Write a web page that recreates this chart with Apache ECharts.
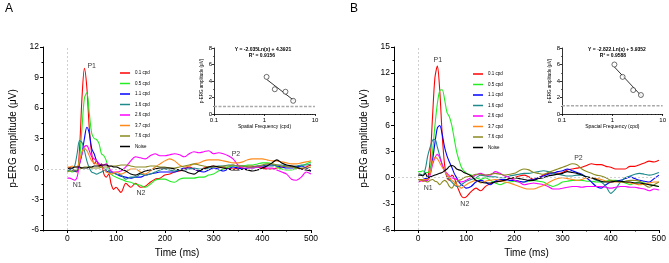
<!DOCTYPE html>
<html>
<head>
<meta charset="utf-8">
<script src="https://cdn.jsdelivr.net/npm/echarts@6.0.0/dist/echarts.min.js"></script>
<style>
html, body { margin: 0; padding: 0; background: #fff; }
#chart { width: 669px; height: 263px; }
</style>
</head>
<body>
<div id="chart"></div>
<script>
// time base (ms): 5 ms steps to 100, then 10 ms steps
const T = [0,5,10,15,20,25,30,35,40,45,50,55,60,65,70,75,80,85,90,95,100,
  110,120,130,140,150,160,170,180,190,200,
  210,220,230,240,250,260,270,280,290,300,
  310,320,330,340,350,360,370,380,390,400,
  410,420,430,440,450,460,470,480,490,500];

const NAMES = ['0.1 cpd', '0.5 cpd', '1.1 cpd', '1.6 cpd', '2.6 cpd', '3.7 cpd', '7.6 cpd', 'Noise'];
const COLORS = ['#ff0000', '#22ee22', '#0000ff', '#1f8a8a', '#ff00ff', '#ff8a1a', '#8a8a1f', '#000000'];

// panel A waveforms (uV)
const redA = [0.1,0.1,0,-0.2,-0.3,2,7,9.9,8,4,1.5,0.5,0.8,0.3,0.5,-0.5,-0.8,-0.5,-1.5,-2,-1.8,
  -2.3,-1.4,-1.8,-1.4,-1.8,-1.7,-1.3,-1.0,-0.9,-0.6,
  -0.5,-0.3,-0.2,0,0.2,0,-0.2,0.1,0.2,0.3,
  0.2,0.2,0.1,0,0.1,0.2,0.3,0.3,0.2,0.1,
  0,0,0.1,0.2,0.3,0.3,0.1,0,0.2,0.4];
const greenA = [-0.2,-0.2,-0.3,-0.2,0,1,4,7,7.5,5.5,3.5,3,2.9,2.5,1.5,1.3,0.8,-0.2,-0.5,-0.7,-0.8,
  -1.0,-1.2,-1.3,-1.5,-1.6,-1.8,-1.5,-1.1,-1.0,-1.0,
  -1.2,-1.3,-1.0,-0.9,-0.9,-0.9,-0.8,-0.8,-0.6,-0.5,
  -0.2,0,0.2,0.3,0.3,0.3,0.4,0.4,0.5,0.6,
  0.6,0.5,0.2,0,-0.1,-0.1,0.1,0.3,0.5,0.7];
const blueA = [0,0,-0.1,-0.2,-0.2,0.5,1.5,3,4.1,3.5,2,1.5,0.8,0.5,0.3,0,-0.2,-0.3,-0.3,-0.4,-0.5,
  -0.7,-0.8,-0.9,-0.8,-0.8,-0.6,-0.5,-0.4,-0.3,-0.3,
  -0.3,-0.3,-0.1,0.1,0.1,0,-0.2,-0.3,-0.1,0.1,
  0,-0.2,0,0.2,0.1,0,0.1,0.2,0.3,0.3,
  0.4,0.4,0.3,0.2,0.1,0.1,0.2,0.3,0.1,-0.2];
const tealA = [-0.2,-0.1,0,0.3,1.5,2.8,2.6,1.8,0.8,0.1,-0.3,-0.4,-0.5,-0.4,-0.3,-0.1,0,-0.1,-0.2,-0.4,-0.5,
  -0.6,-1.0,-0.8,-0.8,-0.5,-0.6,-0.5,-0.3,-0.1,0,
  -0.1,-0.2,-0.1,-0.1,0,0.1,0,0,0.1,0.2,
  0.3,0.3,0.4,0.4,0.3,0.3,0.2,0.1,0.2,0.3,
  0.3,0.3,0.4,0.4,0.3,0.3,0.3,0.4,0.4,0.5];
const magentaA = [-0.9,-0.9,-1.0,-1.1,-0.8,0.5,1.5,2.2,2.3,1.8,1.2,1.0,0.8,0.5,0.3,0.4,0.5,0.2,-0.2,-0.3,-0.3,
  -0.2,0.2,0.8,1.2,1.1,1.0,1.3,1.5,1.3,1.3,
  1.4,1.5,1.4,1.2,1.5,1.7,1.6,1.7,1.8,1.5,
  1.6,1.5,1.3,1.0,0.4,0.1,0.1,0.1,0.2,0.2,
  0.1,0.1,-0.1,-0.3,-0.5,-1.0,-1.1,-0.8,-0.3,-0.5];
const orangeA = [0.2,0.2,0.3,0.2,0.2,0.8,1.7,2.0,1.8,1.3,0.8,0.6,0.5,0.3,0.2,0,-0.3,-0.4,-0.5,-0.4,-0.3,
  -0.5,-0.3,0,0,-0.3,-0.5,-0.2,0.2,0.5,0.8,
  1.0,0.8,0.4,0.2,0.3,0.5,0.6,0.8,0.9,0.9,
  0.9,0.8,0.7,0.6,0.6,0.7,0.9,1.0,1.0,1.0,
  0.9,0.8,0.8,0.7,0.6,0.5,0.5,0.6,0.7,0.8];
const oliveA = [-0.3,-0.2,-0.2,-0.1,-0.1,0,0.1,0.2,0.2,0.2,0.1,0.1,0.1,0.1,0.2,0.2,0.2,0.2,0.3,0.3,0.3,
  0.4,0.4,0.3,0.2,0.2,0.2,0.3,0.3,0.2,0.2,
  0.1,0.1,0.2,0.3,0.4,0.5,0.4,0.3,0.2,0.2,
  0.2,0.3,0.3,0.4,0.3,0.3,0.2,0.2,0.3,0.4,
  0.5,0.5,0.4,0.3,0.2,0.2,0.1,0.1,0.1,0.2];
const noiseA = [0,0.1,0.1,0.2,0.2,0.2,0.1,0.1,0.1,0.2,0.2,0.3,0.3,0.3,0.4,0.4,0.4,0.3,0.3,0.2,0.2,
  0,-0.2,-0.5,-0.6,-0.4,-0.2,-0.1,0,0.1,0.1,
  0.1,0,-0.1,-0.2,-0.4,-0.5,-0.2,0,0.2,0.3,
  0.2,0.1,0,-0.1,-0.1,0,-0.1,-0.2,-0.1,0.1,
  0.3,0.6,0.9,0.6,0.4,0.3,0.2,0,-0.1,-0.2];

// panel B waveforms (uV)
const redB = [-0.3,-0.3,-0.4,-0.3,0,2,7,11.5,12.8,10,5,1.5,0,-0.3,0.3,0,-0.8,-1.5,-2.1,-2.3,-2.2,
  -1.6,-1.2,-1.5,-1.0,-0.7,-0.5,-0.4,-0.3,-0.1,0,
  0.2,0.3,0.1,-0.2,0,0.3,0.5,0.6,0.5,0.6,
  0.9,1.0,1.1,1.2,1.4,1.6,1.5,1.5,1.3,1.2,
  1.0,1.0,1.0,1.3,1.3,1.5,1.7,1.9,1.8,2.0];
const greenB = [0.7,0.7,0.8,0.6,0.6,1,3,6,8.5,10,10.1,9,7.5,7,6,4.5,3,2,1.2,0.8,0.5,
  0.3,0,-0.2,0,-0.3,-0.6,-0.8,-0.6,-0.5,-0.4,
  -0.5,-0.5,-0.4,-0.3,-0.4,-0.5,-0.8,-1.0,-0.8,-0.5,
  -0.4,-0.3,-0.3,-0.3,-0.4,-0.4,-0.5,-0.5,-0.4,-0.3,
  -0.3,-0.4,-0.6,-0.8,-0.6,-0.5,-0.6,-0.8,-0.9,-1.0];
const blueB = [-0.3,-0.3,-0.2,-0.1,0,0.5,2,4,5.7,6,5,3.5,2.5,1.8,1.2,0.5,0,-0.5,-0.8,-1,-1.2,
  -1.0,-0.5,-0.3,-0.5,-0.8,-0.4,-0.2,-0.2,-0.3,-0.3,
  -0.4,-0.5,-0.3,-0.2,0,0.2,0.4,0.5,0.7,0.8,
  1.0,0.8,0.6,0.4,0,-0.5,-1.0,-1.2,-0.8,-0.5,
  -0.4,-0.3,-0.1,0.1,-0.1,-0.3,-0.4,-0.5,-0.1,0.3];
const tealB = [0.5,0.4,0.3,1,2.5,3.5,4.3,4.4,3.5,2.5,1.5,0.8,0.2,-0.2,-0.5,-0.8,-1.0,-1.0,-0.8,-0.6,-0.4,
  -0.2,0,0.3,0.2,0.1,0.1,0,0,0.2,0.3,
  0.4,0.5,0.5,0.6,0.7,0.8,0.7,0.5,0.4,0.3,
  0.2,0.2,0.3,0.3,0.1,0,-0.3,-0.5,-1.0,-1.8,
  -1.3,-0.5,0,0.2,0.4,0.5,0.4,0.3,0.4,0.6];
const magentaB = [-0.5,-0.4,-0.3,-0.3,-0.3,0.3,1.5,2.3,2.7,2.3,1.5,0.8,0.5,0.2,0,-0.1,-0.2,-0.4,-0.5,-0.4,-0.3,
  0,0.3,0.5,0.3,0.3,0.7,0.5,0.2,0,-0.3,
  -0.5,-0.8,-0.7,-0.6,-0.7,-0.8,-1.0,-1.3,-1.3,-1.2,
  -1.1,-1.0,-1.0,-1.1,-1.0,-1.0,-1.0,-1.0,-1.1,-1.2,
  -1.1,-1.0,-1.0,-1.1,-1.1,-1.2,-1.3,-1.5,-1.3,-1.4];
const orangeB = [-0.3,-0.3,-0.2,-0.2,-0.2,0.5,1.8,2.3,2.2,1.7,1.2,0.8,0.3,0,-0.3,-0.5,-0.8,-1.0,-1.2,-1.0,-0.8,
  -0.5,-0.3,-0.6,-0.4,-0.3,-0.2,-0.3,-0.5,-0.6,-0.8,
  -1.0,-1.2,-1.3,-1.3,-1.1,-0.9,-0.6,-0.3,-0.1,0,
  -0.1,-0.2,-0.3,-0.2,0,0,-0.1,-0.2,-0.4,-0.5,
  -0.5,-0.5,-0.5,-0.6,-0.7,-0.8,-0.7,-0.6,-0.5,-0.5];
const oliveB = [-0.2,-0.2,-0.3,-0.4,-0.5,-0.3,-0.2,-0.4,-0.5,-0.8,-0.5,-0.3,-0.5,-1.0,-1.2,-0.8,-0.5,-0.3,-0.2,0,0.1,
  0.2,0.4,0.4,0.3,0.4,0.5,0.4,0.3,0.4,0.5,
  0.8,1.0,0.9,0.6,0.5,0.4,0.6,0.8,1.0,1.2,
  1.4,1.6,1.5,1.0,0.7,0.5,0.3,0.2,0,-0.3,
  -0.4,-0.5,-0.4,-0.3,-0.3,-0.4,-0.8,-1.1,-0.8,-0.5];
const noiseB = [0.3,0.3,0.2,0.5,0,0.1,0.2,0.3,0.4,0.5,0.6,0.8,1.0,1.3,1.4,1.3,1.0,0.9,0.8,0.6,0.5,
  0.2,-0.3,-0.5,-0.6,-0.6,-0.5,-0.4,-0.3,-0.1,0,
  -0.1,-0.2,-0.3,-0.3,-0.1,0,0.2,0.3,0.4,0.5,
  0.7,0.6,0.5,0.3,0.1,0,-0.2,-0.4,-0.5,-0.5,
  -0.4,-0.4,-0.5,-0.5,-0.6,-0.6,-0.7,-0.8,-0.9,-1.0];

// component labels: [text, time, amplitude]
const peaksA = [['P1', 50, 10.1], ['N1', 20, -1.6], ['N2', 151, -2.4], ['P2', 346, 1.5]];
const peaksB = [['P1', 41, 13.5], ['N1', 21, -1.2], ['N2', 97, -3.0], ['P2', 333, 2.3]];

// insets: amplitude vs spatial frequency
const sfA = [1.1, 1.6, 2.6, 3.7];
const ampA = [4.5, 3.0, 2.7, 1.6];
const fitA = [[1.1, 4.2], [3.9, 1.6]];
const noiseLevelA = 0.9;
const sfB = [1.1, 1.6, 2.6, 3.7];
const ampB = [6.0, 4.5, 2.9, 2.3];
const fitB = [[1.1, 5.7], [3.9, 2.1]];
const noiseLevelB = 1.0;

const X_TICKS = [0, 100, 200, 300, 400, 500];
const LOG_MINOR = [0.2,0.3,0.4,0.5,0.6,0.7,0.8,0.9,2,3,4,5,6,7,8,9];
const FONT = '"Liberation Sans", Arial, sans-serif';

const chart = echarts.init(document.getElementById('chart'), null, {renderer: 'canvas'});

function mainX(gridIndex) {
    return [{
        type: 'value', gridIndex, min: -50, max: 500, position: 'bottom',
        axisLine: {show: true, onZero: false, lineStyle: {color: '#000', width: 1}},
        axisTick: {show: true, length: 3, customValues: X_TICKS, lineStyle: {color: '#000'}},
        axisLabel: {customValues: X_TICKS, fontSize: 8.5, color: '#000', margin: 4, fontFamily: FONT},
        splitLine: {show: false},
        name: 'Time (ms)', nameLocation: 'middle', nameGap: 18,
        nameTextStyle: {fontSize: 10, color: '#000', fontFamily: FONT}
    }, {
        // minor ticks every 50 ms
        type: 'value', gridIndex, min: -50, max: 500, interval: 50, position: 'bottom',
        axisLine: {show: false, onZero: false},
        axisTick: {show: true, length: 1.5, lineStyle: {color: '#000'}},
        axisLabel: {show: false}, splitLine: {show: false}
    }];
}

function mainY(gridIndex, max) {
    return {
        type: 'value', gridIndex, min: -6, max, interval: 3,
        axisLine: {show: true, onZero: false, lineStyle: {color: '#000', width: 1}},
        axisTick: {show: true, length: 3, lineStyle: {color: '#000'}},
        minorTick: {show: true, splitNumber: 2, length: 1.5, lineStyle: {color: '#000'}},
        axisLabel: {fontSize: 8.5, color: '#000', margin: 4, fontFamily: FONT},
        splitLine: {show: false},
        name: 'p-ERG amplitude (μV)', nameLocation: 'middle', nameGap: 25,
        nameTextStyle: {fontSize: 10, color: '#000', fontFamily: FONT}
    };
}

function insetX(gridIndex, name) {
    return [{
        type: 'log', logBase: 10, gridIndex, min: 0.1, max: 10, position: 'bottom',
        axisLine: {show: true, onZero: false, lineStyle: {color: '#000', width: 0.8}},
        axisTick: {show: true, length: 2, lineStyle: {color: '#000', width: 0.8}},
        axisLabel: {fontSize: 6, color: '#000', margin: 3, fontFamily: FONT},
        splitLine: {show: false},
        name, nameLocation: 'middle', nameGap: 10,
        nameTextStyle: {fontSize: 5, color: '#000', fontFamily: FONT}
    }, {
        type: 'log', logBase: 10, gridIndex, min: 0.1, max: 10, position: 'bottom',
        axisLine: {show: false, onZero: false},
        axisTick: {show: true, length: 1, customValues: LOG_MINOR, lineStyle: {color: '#000', width: 0.6}},
        axisLabel: {show: false}, splitLine: {show: false}
    }];
}

function insetY(gridIndex) {
    return {
        type: 'value', gridIndex, min: 0, max: 8, interval: 2,
        axisLine: {show: true, onZero: false, lineStyle: {color: '#000', width: 0.8}},
        axisTick: {show: true, length: 2, lineStyle: {color: '#000', width: 0.8}},
        minorTick: {show: true, splitNumber: 2, length: 1, lineStyle: {color: '#000', width: 0.6}},
        axisLabel: {fontSize: 6, color: '#000', margin: 2, fontFamily: FONT},
        splitLine: {show: false},
        name: 'p-ERG amplitude (μV)', nameLocation: 'middle', nameGap: 8,
        nameTextStyle: {fontSize: 4.5, color: '#000', fontFamily: FONT}
    };
}

function waves(list, xi, yi) {
    return list.map((values, k) => ({
        name: NAMES[k], type: 'line', xAxisIndex: xi, yAxisIndex: yi,
        data: T.map((t, i) => [t, values[i]]),
        showSymbol: false, smooth: 0.3, silent: true,
        lineStyle: {color: COLORS[k], width: 1.1},
        itemStyle: {color: COLORS[k]},
        z: 3
    }));
}

function refLines(xi, yi) {
    return {
        type: 'line', xAxisIndex: xi, yAxisIndex: yi, data: [], silent: true,
        markLine: {
            silent: true, symbol: 'none', label: {show: false},
            lineStyle: {color: '#d0d0d0', type: [2, 2], width: 1},
            data: [{xAxis: 0}, {yAxis: 0}]
        },
        z: 1
    };
}

function peakLabels(peaks, xi, yi) {
    return {
        type: 'scatter', xAxisIndex: xi, yAxisIndex: yi, silent: true,
        symbolSize: 1, itemStyle: {color: 'rgba(0,0,0,0)'},
        data: peaks.map(p => ({name: p[0], value: [p[1], p[2]]})),
        label: {show: true, position: 'inside', formatter: '{b}', fontSize: 7, color: '#000', fontFamily: FONT},
        z: 5
    };
}

function insetSeries(sf, amp, fit, level, xi, yi) {
    return [{
        type: 'line', xAxisIndex: xi, yAxisIndex: yi, silent: true,
        data: [[0.1, level], [10, level]], showSymbol: false,
        lineStyle: {color: '#aaa', width: 1.5, type: [3, 1.5]}
    }, {
        type: 'line', xAxisIndex: xi, yAxisIndex: yi, silent: true,
        data: fit, showSymbol: false,
        lineStyle: {color: '#000', width: 0.8}
    }, {
        type: 'scatter', xAxisIndex: xi, yAxisIndex: yi, silent: true,
        data: sf.map((s, i) => [s, amp[i]]),
        symbol: 'circle', symbolSize: 5,
        itemStyle: {color: '#fff', borderColor: '#000', borderWidth: 0.7},
        z: 4
    }];
}

function legendAt(left, top) {
    return {
        data: NAMES, left, top, orient: 'vertical', padding: 0,
        itemWidth: 10, itemHeight: 1.5, itemGap: 4.5, icon: 'rect',
        selectedMode: false,
        textStyle: {fontSize: 4.5, lineHeight: 6, color: '#000', fontFamily: FONT}
    };
}

function text(str, x, y, size, weight, align) {
    return {
        type: 'text', x, y,
        style: {text: str, fontSize: size, fontWeight: weight || 'normal', fill: '#000',
            fontFamily: FONT, align: align || 'center', verticalAlign: 'middle'}
    };
}

const option = {
    animation: false,
    backgroundColor: '#fff',
    grid: [
        {left: 43, top: 47, width: 268, height: 185},
        {left: 214, top: 48, width: 101, height: 66},
        {left: 394, top: 47, width: 266, height: 185},
        {left: 562, top: 48, width: 101, height: 66}
    ],
    xAxis: [
        ...mainX(0),
        ...insetX(1, 'Spatial Frequency (cpd)'),
        ...mainX(2),
        ...insetX(3, 'Spacial Frequency (cpd)')
    ],
    yAxis: [mainY(0, 12), insetY(1), mainY(2, 15), insetY(3)],
    legend: [legendAt(120, 70), legendAt(473, 71)],
    graphic: [
        text('A', 9, 9, 12),
        text('B', 354, 9, 12),
        text('Y = -2.035Ln(x) + 4.3921', 263, 50, 5, 'bold'),
        text('R² = 0.9156', 262, 56, 5, 'bold'),
        text('Y = -2.822.Ln(x) + 5.9352', 617, 49.5, 5, 'bold'),
        text('R² = 0.9588', 613, 56, 5, 'bold')
    ],
    series: [
        refLines(0, 0),
        ...waves([redA, greenA, blueA, tealA, magentaA, orangeA, oliveA, noiseA], 0, 0),
        peakLabels(peaksA, 0, 0),
        ...insetSeries(sfA, ampA, fitA, noiseLevelA, 2, 1),
        refLines(4, 2),
        ...waves([redB, greenB, blueB, tealB, magentaB, orangeB, oliveB, noiseB], 4, 2),
        peakLabels(peaksB, 4, 2),
        ...insetSeries(sfB, ampB, fitB, noiseLevelB, 6, 3)
    ]
};

chart.setOption(option);
</script>
</body>
</html>
